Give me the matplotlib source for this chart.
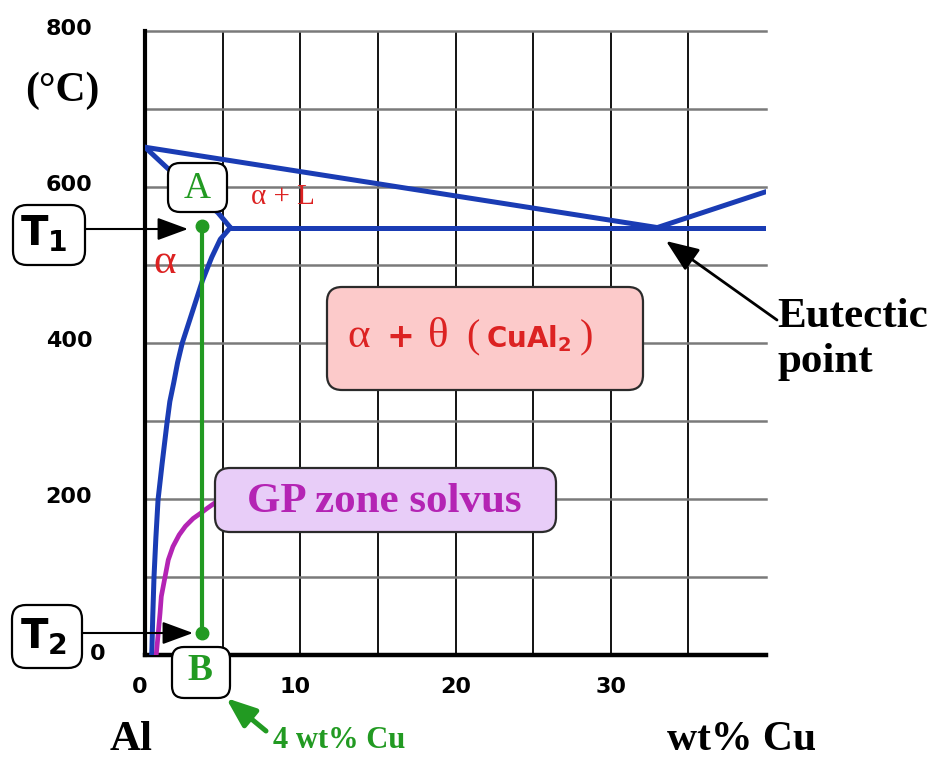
import matplotlib.pyplot as plt
from matplotlib.patches import FancyBboxPatch, FancyArrowPatch
from matplotlib.transforms import ScaledTranslation

plt.rcParams['mathtext.fontset'] = 'custom'
plt.rcParams['mathtext.rm'] = 'DejaVu Sans:bold'
plt.rcParams['mathtext.default'] = 'rm'

# Al-Cu phase boundaries (wt% Cu, temperature in C)
liquidus_x = [0, 33]
liquidus_T = [651, 548]
liquidus2_x = [33, 40]
liquidus2_T = [548, 594]
eutectic_x = [5.5, 40]
eutectic_T = [548, 548]
solidus_x = [0, 1.4, 3.0, 4.7, 5.5]
solidus_T = [651, 625, 597, 567, 548]
solvus_x = [5.5, 5.2, 4.85, 4.3, 3.7, 3.1, 2.4, 2.1, 1.85, 1.6, 1.42, 1.1, 0.84, 0.7, 0.58, 0.5, 0.45, 0.43]
solvus_T = [548, 541, 533, 510, 480, 443, 400, 375, 349, 325, 298, 245, 199, 150, 100, 50, 10, 0]
gp_x = [0.72, 0.77, 0.97, 1.05, 1.29, 1.5, 1.8, 2.2, 2.6, 3.1, 3.6, 4.0, 4.5]
gp_T = [0, 10, 54, 75, 100, 122, 139, 154, 165, 175, 182, 188, 195]

# alloy path A -> B
alloy_x = 3.7
T1, T2 = 550, 28

xticks = [0, 10, 20, 30]
yticks = [0, 200, 400, 600, 800]

blue = '#1a3cb4'
green = '#229a22'
magenta = '#b424b4'
red = '#dc2222'
serif = 'Liberation Serif'

W, H = 943, 760
fig = plt.figure(figsize=(W / 100, H / 100), dpi=100)
ax = fig.add_axes([145 / W, 1 - 655 / H, (766 - 145) / W, (655 - 31) / H])
ax.set_xlim(0, 40)
ax.set_ylim(0, 800)

# grid
for x in range(5, 40, 5):
    ax.plot([x, x], [0, 800], color='black', lw=1.3, zorder=1)
for t in range(100, 900, 100):
    ax.plot([0, 40], [t, t], color='#7a7a7a', lw=1.8, zorder=1, clip_on=False)

for s in ['top', 'right']:
    ax.spines[s].set_visible(False)
ax.spines['left'].set_linewidth(3)
ax.spines['bottom'].set_linewidth(3.2)

ax.set_xticks(xticks, [str(v) for v in xticks])
ax.set_yticks(yticks, [str(v) for v in yticks])
ax.tick_params(axis='both', length=0, labelsize=16)
ax.tick_params(axis='x', pad=16)
ax.tick_params(axis='y', pad=38)
for lab in ax.get_xticklabels() + ax.get_yticklabels():
    lab.set_fontweight('bold')
    lab.set_fontfamily('DejaVu Sans')
ylabs = ax.get_yticklabels()
for lab in ylabs[1:]:
    lab.set_transform(lab.get_transform() + ScaledTranslation(0, 0.04, fig.dpi_scale_trans))
ylabs[0].set_transform(ylabs[0].get_transform() + ScaledTranslation(0.13, 0.03, fig.dpi_scale_trans))
xlabs = ax.get_xticklabels()
for lab in xlabs[:2]:
    lab.set_transform(lab.get_transform() + ScaledTranslation(-0.05, 0, fig.dpi_scale_trans))

# phase boundaries
kw = dict(color=blue, lw=3.6, solid_joinstyle='round', solid_capstyle='round', zorder=3)
ax.plot(liquidus_x, liquidus_T, **kw)
ax.plot(liquidus2_x, liquidus2_T, **kw)
ax.plot(eutectic_x, eutectic_T, **kw)
ax.plot(solidus_x, solidus_T, **kw)
ax.plot(solvus_x, solvus_T, **kw)
ax.plot(gp_x, gp_T, color=magenta, lw=3.4, solid_joinstyle='round', solid_capstyle='round', zorder=3)

ax.plot([alloy_x, alloy_x], [T1, T2], color=green, lw=3, marker='o', ms=9, zorder=4)


# annotation helpers, positions in figure pixels from top-left
def rbox(x0, y0, x1, y1, fc='white', ec='black', r=12, lw=1.6):
    p = FancyBboxPatch((x0 / W, 1 - y1 / H), (x1 - x0) / W, (y1 - y0) / H,
                       boxstyle=f'round,pad=0,rounding_size={r / W}',
                       mutation_aspect=W / H, transform=fig.transFigure,
                       fc=fc, ec=ec, lw=lw, zorder=5)
    fig.add_artist(p)


def ftext(x, y, s, **kw):
    kw.setdefault('va', 'baseline')
    kw.setdefault('zorder', 7)
    fig.text(x / W, 1 - y / H, s, **kw)


def arrow(x0, y0, x1, y1, color='black', lw=1.5, hl=19, hw=7):
    a = FancyArrowPatch((x0 / W, 1 - y0 / H), (x1 / W, 1 - y1 / H),
                        transform=fig.transFigure,
                        arrowstyle=f'-|>,head_length={hl},head_width={hw}',
                        mutation_scale=1, color=color, lw=lw,
                        shrinkA=0, shrinkB=0, zorder=6)
    fig.add_artist(a)


# point labels
rbox(168, 163, 227, 212)
ftext(197, 198, 'A', ha='center', color=green, family=serif, size=27)
rbox(172, 647, 230, 698)
ftext(200, 680, 'B', ha='center', color=green, family=serif, weight='bold', size=27)

rbox(13, 205, 85, 265, r=14)
ftext(44, 245, 'T$_1$', ha='center', family='DejaVu Sans', weight='bold', size=29)
arrow(85, 229, 188, 229)
rbox(12, 605, 82, 668, r=14)
ftext(44, 648, 'T$_2$', ha='center', family='DejaVu Sans', weight='bold', size=29)
arrow(82, 633, 193, 633)

# phase region labels
ftext(283, 204, 'α + L', ha='center', color=red, family=serif, size=21)
ftext(165, 273, 'α', ha='center', color=red, family=serif, size=31)

rbox(327, 287, 643, 390, fc='#fccaca', ec='#2b2b2b', r=15)
ftext(347, 347, 'α', ha='left', color=red, family=serif, size=31)
ftext(386, 347, '+', ha='left', color=red, family='DejaVu Sans', weight='bold', size=24)
ftext(428, 347, 'θ', ha='left', color=red, family=serif, size=31)
ftext(466, 347, '(', ha='left', color=red, family=serif, size=29)
ftext(486, 347, 'CuAl$_2$', ha='left', color=red, family='DejaVu Sans', weight='bold', size=20)
ftext(580, 347, ')', ha='left', color=red, family=serif, size=29)

rbox(215, 468, 556, 532, fc='#e8cdf8', ec='#2b2b2b', r=15)
ftext(384, 512, 'GP zone solvus', ha='center', color=magenta, family=serif, weight='bold', size=31)

ftext(777, 327, 'Eutectic', ha='left', family=serif, weight='bold', size=31)
ftext(777, 372, 'point', ha='left', family=serif, weight='bold', size=31)
arrow(777, 320, 666, 241, lw=2, hl=20, hw=8)

ftext(273, 748, '4 wt% Cu', ha='left', color=green, family=serif, weight='bold', size=22)
arrow(266, 731, 226, 698, color=green, lw=3.6, hl=18, hw=7)

# axis captions
ftext(131, 750, 'Al', ha='center', family=serif, weight='bold', size=31)
ftext(742, 750, 'wt% Cu', ha='center', family=serif, weight='bold', size=30)
ftext(62, 101, '(°C)', ha='center', family=serif, weight='bold', size=30)

fig.savefig('out.png', dpi=100)
